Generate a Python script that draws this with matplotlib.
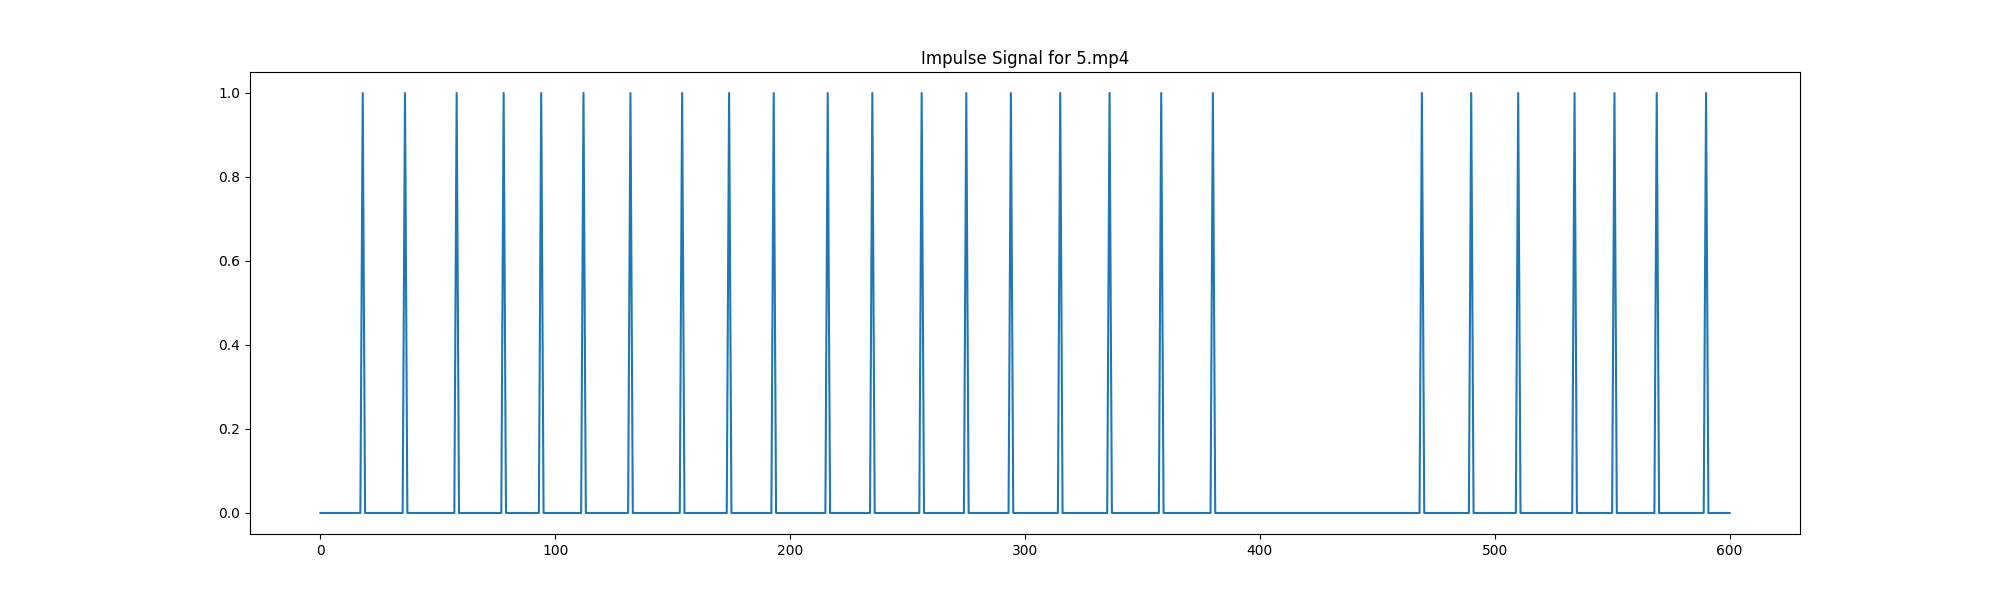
import numpy as np
import matplotlib
matplotlib.use("Agg")
import matplotlib.pyplot as plt

# frame indices where an impulse occurs
spike_frames = [18, 36, 58, 78, 94, 112, 132, 154, 174, 193, 216, 235, 256,
                275, 294, 315, 336, 358, 380, 469, 490, 510, 534, 551, 569, 590]
n_frames = 601
video_name = "5.mp4"

signal = np.zeros(n_frames)
signal[spike_frames] = 1

plt.figure(figsize=(20, 6), dpi=100)
plt.plot(np.arange(n_frames), signal)
plt.title(f"Impulse Signal for {video_name}")
plt.savefig("out.png")
